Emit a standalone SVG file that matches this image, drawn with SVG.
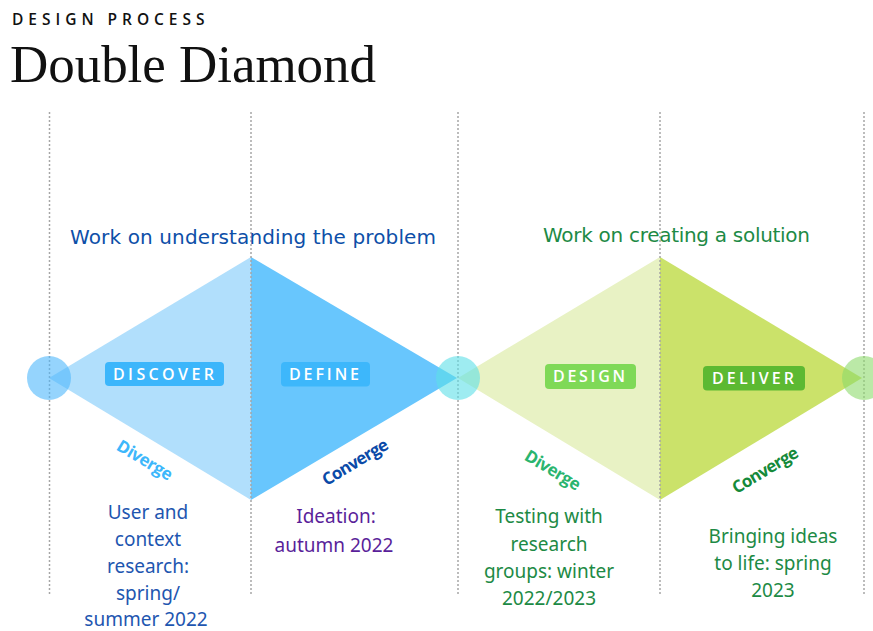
<svg xmlns="http://www.w3.org/2000/svg" width="873" height="631" viewBox="0 0 873 631">
  <style>
    .guide { stroke: #a6a6a6; stroke-width: 1.5; stroke-dasharray: 2 2; fill: none; }
    .badge-text { font-family: "Open Sans", "Noto Sans", sans-serif; font-weight: 600; font-size: 16px; fill: #ffffff; letter-spacing: 3px; }
    .phase { font-family: "DejaVu Sans", "Open Sans", sans-serif; font-size: 20px; }
    .note { font-family: "Noto Sans", "Open Sans", sans-serif; font-size: 19px; text-anchor: middle; }
    .slope { font-family: "Open Sans", "Noto Sans", sans-serif; font-weight: 700; font-size: 17px; text-anchor: middle; }
    .dot { opacity: 0.6; }
  </style>

  <rect width="873" height="631" fill="#ffffff"/>

  <!-- Title -->
  <g id="title">
    <text x="12" y="25" font-family="Open Sans, Noto Sans, sans-serif" font-weight="600" font-size="15.5" letter-spacing="2.5" fill="#111111" textLength="195">DESIGN PROCESS</text>
    <text x="10" y="82" font-family="Liberation Serif, serif" font-size="53" fill="#111111" textLength="366">Double Diamond</text>
  </g>

  <!-- Diamond shapes -->
  <g id="discover-shape"><polygon points="49,378 251,257 251,500" fill="#b1dffc"/></g>
  <g id="define-shape"><polygon points="251,257 457,378 251,500" fill="#68c6fd"/></g>
  <g id="design-shape"><polygon points="458,378 660,257 660,500" fill="#e8f2c4"/></g>
  <g id="deliver-shape"><polygon points="660,257 862,378 660,500" fill="#cbe26a"/></g>

  <!-- Phase boundary guides -->
  <g id="guides">
    <line class="guide" x1="49.5" y1="112" x2="49.5" y2="596"/>
    <line class="guide" x1="251" y1="112" x2="251" y2="596"/>
    <line class="guide" x1="458" y1="112" x2="458" y2="596"/>
    <line class="guide" x1="660" y1="112" x2="660" y2="596"/>
    <line class="guide" x1="864" y1="112" x2="864" y2="596"/>
  </g>

  <!-- Milestone dots -->
  <g id="dot-start"><circle class="dot" cx="49" cy="378" r="22" fill="#4fb8fb"/></g>
  <g id="dot-middle"><circle class="dot" cx="458" cy="378" r="22" fill="#5ee0e8"/></g>
  <g id="dot-end"><circle class="dot" cx="864" cy="378" r="22" fill="#8edb6c"/></g>

  <!-- Goal headings -->
  <g id="problem-heading">
    <text class="phase" x="70" y="244" fill="#0d4fa8" textLength="366">Work on understanding the problem</text>
  </g>
  <g id="solution-heading">
    <text class="phase" x="543" y="242" fill="#1d8a45" textLength="267">Work on creating a solution</text>
  </g>

  <!-- Phase badges -->
  <g id="discover">
    <rect x="105" y="362" width="119" height="24" rx="4" fill="#3cb6fb"/>
    <text class="badge-text" x="113" y="379.5" textLength="104">DISCOVER</text>
  </g>
  <g id="define">
    <rect x="281" y="362" width="89" height="24.5" rx="4" fill="#3db7fb"/>
    <text class="badge-text" x="289" y="379.5" textLength="73">DEFINE</text>
  </g>
  <g id="design">
    <rect x="545" y="364" width="91" height="25" rx="4" fill="#7fd957"/>
    <text class="badge-text" x="553" y="382" textLength="75">DESIGN</text>
  </g>
  <g id="deliver">
    <rect x="703" y="366" width="102" height="24.5" rx="4" fill="#5cb932"/>
    <text class="badge-text" x="712" y="384" textLength="85">DELIVER</text>
  </g>

  <!-- Slope labels -->
  <g id="discover-slope">
    <text class="slope" transform="translate(145,460) rotate(31)" y="6" fill="#3db7fb" textLength="62">Diverge</text>
  </g>
  <g id="define-slope">
    <text class="slope" transform="translate(355,462) rotate(-31)" y="6" fill="#0a4aa8" textLength="74">Converge</text>
  </g>
  <g id="design-slope">
    <text class="slope" transform="translate(553,470) rotate(31)" y="6" fill="#2ab56f" textLength="62">Diverge</text>
  </g>
  <g id="deliver-slope">
    <text class="slope" transform="translate(765,470) rotate(-31)" y="6" fill="#158a3a" textLength="74">Converge</text>
  </g>

  <!-- Timeline notes -->
  <g id="discover-note" fill="#1e56b0">
    <text class="note" x="148" y="519">User and</text>
    <text class="note" x="148" y="546">context</text>
    <text class="note" x="148" y="573">research:</text>
    <text class="note" x="148" y="600">spring/</text>
    <text class="note" x="146" y="626">summer 2022</text>
  </g>
  <g id="define-note" fill="#5a1f9a">
    <text class="note" x="336" y="523">Ideation:</text>
    <text class="note" x="334" y="552">autumn 2022</text>
  </g>
  <g id="design-note" fill="#1d8a45">
    <text class="note" x="549" y="523">Testing with</text>
    <text class="note" x="549" y="551">research</text>
    <text class="note" x="549" y="578">groups: winter</text>
    <text class="note" x="549" y="605">2022/2023</text>
  </g>
  <g id="deliver-note" fill="#1d8a45">
    <text class="note" x="773" y="543">Bringing ideas</text>
    <text class="note" x="773" y="570">to life: spring</text>
    <text class="note" x="773" y="597">2023</text>
  </g>
</svg>
